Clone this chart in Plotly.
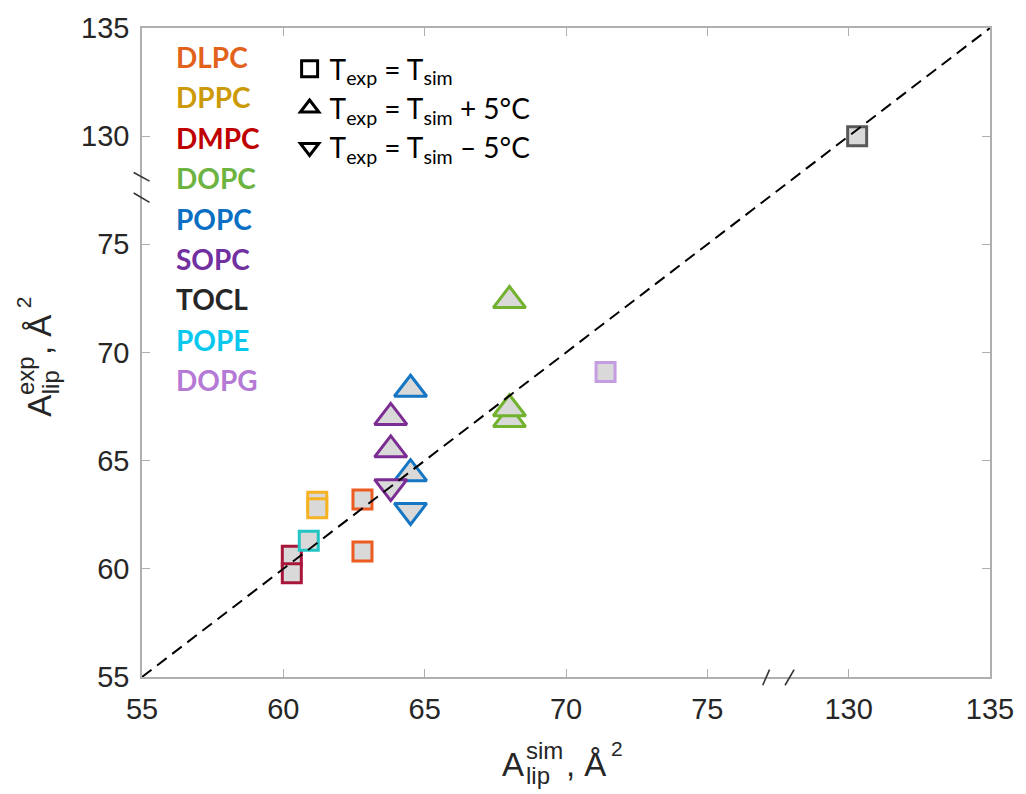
import plotly.graph_objects as go

# ---------------- data ----------------
lipid_names = ["DLPC", "DPPC", "DMPC", "DOPC", "POPC", "SOPC", "TOCL", "POPE", "DOPG"]
text_colors = ["#E2611B", "#CC9A06", "#BE0000", "#6DB33F", "#0A6FC2", "#7030A0", "#262626", "#08C8EE", "#B57AD5"]
marker_colors = ["#EC5B20", "#F5B223", "#A8173A", "#72B22E", "#1576C4", "#7B2D93", "#595959", "#23C4C4", "#C59BE2"]

# each point: lipid, A_sim, A_exp, condition
pt_lipid = ["DLPC", "DLPC", "DPPC", "DPPC", "DMPC", "DMPC",
            "DOPC", "DOPC", "DOPC",
            "POPC", "POPC", "POPC",
            "SOPC", "SOPC", "SOPC",
            "TOCL", "POPE", "DOPG"]
pt_sim = [62.8, 62.8, 61.2, 61.2, 60.3, 60.3,
          68.0, 68.0, 68.0,
          64.5, 64.5, 64.5,
          63.8, 63.8, 63.8,
          130.3, 60.9, 71.4]
pt_exp = [63.2, 60.8, 63.1, 62.8, 60.6, 59.8,
          72.4, 66.9, 67.4,
          68.3, 64.4, 62.7,
          67.0, 65.5, 63.8,
          130.0, 61.3, 69.1]
pt_cond = ["eq", "eq", "eq", "eq", "eq", "eq",
           "plus", "plus", "plus",
           "plus", "plus", "minus",
           "plus", "plus", "minus",
           "eq", "eq", "eq"]

diag = [55, 135]

tick_vals_real = [55, 60, 65, 70, 75, 130, 135]
tick_labels = ["55", "60", "65", "70", "75", "130", "135"]

BREAK_LO, BREAK_HI = 77.5, 127.5
GAP = BREAK_HI - BREAK_LO


def tr(v):
    """map real value onto the broken axis coordinate"""
    return v - GAP if v >= BREAK_HI else v


cond_symbol = {"eq": "square", "plus": "triangle-up", "minus": "triangle-down"}
cond_size = {"eq": 19, "plus": 28, "minus": 28}
cond_legend = {
    "eq": "T<sub>exp</sub> = T<sub>sim</sub>",
    "plus": "T<sub>exp</sub> = T<sub>sim</sub> + 5°C",
    "minus": "T<sub>exp</sub> = T<sub>sim</sub> – 5°C",
}

fig = go.Figure()

FILL = "#D9D9D9"
for lip, xs, ys, c in zip(pt_lipid, pt_sim, pt_exp, pt_cond):
    col = marker_colors[lipid_names.index(lip)]
    fig.add_trace(go.Scatter(
        x=[tr(xs)], y=[tr(ys)], mode="markers",
        marker=dict(symbol=cond_symbol[c], size=cond_size[c], color=FILL,
                    line=dict(color=col, width=3)),
        showlegend=False, hoverinfo="skip"))

# identity line on top
fig.add_trace(go.Scatter(
    x=[tr(v) for v in diag], y=[tr(v) for v in diag], mode="lines",
    line=dict(color="black", width=2, dash="12px,7px"),
    showlegend=False, hoverinfo="skip"))

# shape legend
for c in ["eq", "plus", "minus"]:
    fig.add_trace(go.Scatter(
        x=[None], y=[None], mode="markers", name=cond_legend[c],
        marker=dict(symbol=cond_symbol[c], size=16, color="white",
                    line=dict(color="black", width=3))))

# ---------------- layout ----------------
L, R, T, B = 142, 28, 25, 117
W, H = 1026, 794
PW, PH = W - L - R, H - T - B


def px(xp):
    return (xp - L) / PW


def py(yp):
    return (H - B - yp) / PH


annotations = []
for i, (name, col) in enumerate(zip(lipid_names, text_colors)):
    annotations.append(dict(
        text="<b>%s</b>" % name, xref="paper", yref="paper",
        x=px(174), y=py(54 + i * 40.6), xanchor="left", yanchor="middle",
        showarrow=False, font=dict(family="Lato", size=28, color=col)))

TF = "Liberation Sans"
TC = "#262626"
# x-axis title pieces
annotations += [
    dict(text="A", x=px(516.5), y=py(765), xanchor="center", yanchor="middle",
         font=dict(family=TF, size=33, color=TC)),
    dict(text="sim", x=px(528), y=py(751), xanchor="left", yanchor="middle",
         font=dict(family=TF, size=24, color=TC)),
    dict(text="lip", x=px(528), y=py(776), xanchor="left", yanchor="middle",
         font=dict(family=TF, size=24, color=TC)),
    dict(text=", Å", x=px(568), y=py(765), xanchor="left", yanchor="middle",
         font=dict(family=TF, size=33, color=TC)),
    dict(text="2", x=px(613), y=py(749), xanchor="left", yanchor="middle",
         font=dict(family=TF, size=21, color=TC)),
]
# y-axis title pieces (rotated)
annotations += [
    dict(text="A", x=px(38.5), y=py(404), textangle=-90,
         font=dict(family=TF, size=33, color=TC)),
    dict(text="exp", x=px(24.5), y=py(374), textangle=-90,
         font=dict(family=TF, size=24, color=TC)),
    dict(text="lip", x=px(49), y=py(381), textangle=-90,
         font=dict(family=TF, size=24, color=TC)),
    dict(text=", Å", x=px(38.5), y=py(333), textangle=-90,
         font=dict(family=TF, size=33, color=TC)),
    dict(text="2", x=px(22.5), y=py(301), textangle=-90,
         font=dict(family=TF, size=21, color=TC)),
]
for a in annotations[len(lipid_names):]:
    a.update(xref="paper", yref="paper", showarrow=False)
    a.setdefault("xanchor", "center")
    a.setdefault("yanchor", "middle")

# axis break marks
shapes = []
SL = dict(color="#333333", width=1.6)
for x0, x1 in [(76.96, 77.2), (77.75, 78.07)]:
    shapes.append(dict(type="line", xref="x", yref="paper", x0=x0, x1=x1,
                       y0=-8.3 / PH, y1=7.4 / PH, line=SL))
for y0, y1 in [(78.32, 77.92), (77.37, 76.94)]:
    shapes.append(dict(type="line", xref="paper", yref="y", x0=-8.4 / PW, x1=7.6 / PW,
                       y0=y0, y1=y1, line=SL))

AX = "#AFAFAF"
axis_common = dict(
    range=[55, 85], tickmode="array",
    tickvals=[tr(v) for v in tick_vals_real], ticktext=tick_labels,
    showline=True, mirror="ticks", linecolor=AX, linewidth=1.5,
    ticks="inside", ticklen=8, tickwidth=1.2, tickcolor=AX,
    showgrid=False, zeroline=False,
    tickfont=dict(family=TF, size=29, color=TC),
)

fig.update_layout(
    width=W, height=H,
    margin=dict(l=L, r=R, t=T, b=B),
    paper_bgcolor="white", plot_bgcolor="white",
    xaxis=dict(**axis_common, ticklabelstandoff=5),
    yaxis=dict(**axis_common, ticklabelstandoff=5),
    showlegend=True,
    legend=dict(x=px(291), y=py(41), xanchor="left", yanchor="top",
                bgcolor="rgba(0,0,0,0)", font=dict(family="Lato", size=28, color="black"),
                tracegroupgap=0),
    annotations=annotations,
    shapes=shapes,
)

fig.write_html("out.html")
